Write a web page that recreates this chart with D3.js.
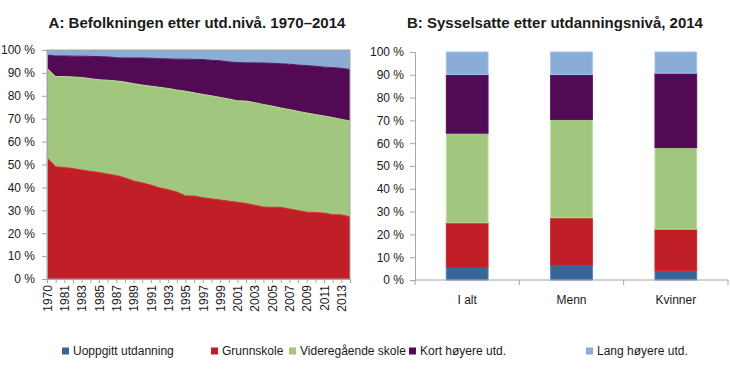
<!DOCTYPE html>
<html>
<head>
<meta charset="utf-8">
<script src="https://cdn.jsdelivr.net/npm/d3@7"></script>
<style>
body { margin: 0; background: #fff; }
svg text { font-family: "Liberation Sans", Arial, sans-serif; fill: #1a1a1a; }
</style>
</head>
<body>
<svg id="chart" width="730" height="373"></svg>
<script>
// series names and colours
const seriesNames = ["Uoppgitt utdanning", "Grunnskole", "Videregående skole", "Kort høyere utd.", "Lang høyere utd."];
const seriesColors = ["#376698", "#c01f27", "#a1c77e", "#520a55", "#8badd5"];
const seriesEdge = ["#4f81bd", "#d7262e", "#b9e08f", "#5e1060", "#9ec4ee"];

// A: population by education level (percent)
const years = [1970, 1980, 1981, 1982, 1983, 1984, 1985, 1986, 1987, 1988, 1989, 1990, 1991, 1992, 1993, 1994, 1995, 1996, 1997, 1998, 1999, 2000, 2001, 2002, 2003, 2004, 2005, 2006, 2007, 2008, 2009, 2010, 2011, 2012, 2013, 2014];
const popUoppgitt = years.map(() => 0);
const popGrunn = [53, 49, 48.7, 48.2, 47.6, 47, 46.5, 45.8, 45.2, 44.2, 42.8, 42, 41, 39.8, 39, 38, 36.3, 36.2, 35.5, 35, 34.5, 34, 33.5, 33, 32.2, 31.4, 31.3, 31.3, 30.6, 29.9, 29.2, 29, 28.8, 28.1, 28, 27.2];
const popVgs = [39, 39.4, 39.7, 40, 40.4, 40.5, 40.5, 41, 41.3, 41.8, 42.5, 42.7, 43.2, 43.9, 44.2, 44.5, 45.7, 45.1, 45.1, 45, 44.8, 44.6, 44.3, 44.7, 44.8, 44.8, 44.2, 43.4, 43.4, 43.3, 43.3, 42.8, 42.4, 42.4, 41.7, 41.8];
const popKort = [5.8, 9, 9, 9.1, 9.3, 9.7, 10.1, 10.2, 10.1, 10.5, 11.2, 11.8, 12.2, 12.5, 12.9, 13.5, 14, 14.6, 15.2, 15.5, 16, 16.2, 16.7, 16.7, 17.4, 18.1, 18.7, 19.3, 19.8, 20.2, 20.7, 21.1, 21.3, 21.8, 22.3, 22.5];
const popLang = [2.2, 2.6, 2.6, 2.7, 2.7, 2.8, 2.9, 3, 3.4, 3.5, 3.5, 3.5, 3.6, 3.8, 3.9, 4, 4, 4.1, 4.2, 4.5, 4.7, 5.2, 5.5, 5.6, 5.6, 5.7, 5.8, 6, 6.2, 6.6, 6.8, 7.1, 7.5, 7.7, 8, 8.5];

// B: employed by education level, 2014 (percent)
const groups = ["I alt", "Menn", "Kvinner"];
const empUoppgitt = [5.5, 6.4, 4.2];
const empGrunn = [19.6, 20.9, 18.1];
const empVgs = [39.3, 43.1, 35.8];
const empKort = [25.7, 19.7, 32.6];
const empLang = [9.9, 9.9, 9.3];

const yTicks = [0, 10, 20, 30, 40, 50, 60, 70, 80, 90, 100];
const pct = d => d + " %";

const svg = d3.select("#chart");

// ---------- Panel A ----------
const popRows = years.map((y, i) => ({
  key: y, s0: popUoppgitt[i], s1: popGrunn[i], s2: popVgs[i], s3: popKort[i], s4: popLang[i]
}));
const keys = ["s0", "s1", "s2", "s3", "s4"];
const popStack = d3.stack().keys(keys)(popRows);

const xA = d3.scalePoint().domain(years).range([47, 350]);
const yA = d3.scaleLinear().domain([0, 100]).range([279, 50]);

const gA = svg.append("g");
const area = d3.area()
  .x(d => xA(d.data.key))
  .y0(d => yA(d[0]))
  .y1(d => yA(d[1]));
const topLine = d3.line()
  .x(d => xA(d.data.key))
  .y(d => yA(d[1]));

gA.selectAll("path.area").data(popStack).join("path")
  .attr("class", "area")
  .attr("d", area)
  .attr("fill", (d, i) => seriesColors[i]);
gA.selectAll("path.edge").data(popStack.slice(1, 4)).join("path")
  .attr("class", "edge")
  .attr("d", topLine)
  .attr("fill", "none")
  .attr("stroke", (d, i) => seriesEdge[i + 1])
  .attr("stroke-width", 1);

gA.append("rect")
  .attr("x", 47).attr("y", 50).attr("width", 303).attr("height", 229)
  .attr("fill", "none").attr("stroke", "#a6a6a6");

gA.append("g").attr("transform", "translate(47,0)")
  .call(d3.axisLeft(yA).tickValues(yTicks).tickFormat(pct).tickSize(5).tickPadding(7));
const axXA = gA.append("g").attr("transform", "translate(0,279)")
  .call(d3.axisBottom(xA).tickSize(4).tickFormat((d, i) => i % 2 === 0 ? d : ""));
axXA.selectAll("text")
  .attr("transform", "rotate(-90)")
  .attr("text-anchor", "end")
  .attr("x", -6).attr("y", 0).attr("dy", "0.35em");

gA.append("text")
  .attr("x", 197).attr("y", 28)
  .attr("text-anchor", "middle")
  .attr("font-weight", "bold")
  .attr("font-size", 15)
  .text("A: Befolkningen etter utd.nivå. 1970–2014");

// ---------- Panel B ----------
const empRows = groups.map((g, i) => ({
  key: g, s0: empUoppgitt[i], s1: empGrunn[i], s2: empVgs[i], s3: empKort[i], s4: empLang[i]
}));
const empStack = d3.stack().keys(keys)(empRows);

const xB = d3.scaleBand().domain(groups).range([415, 728]).paddingInner(0.6).paddingOuter(0.3);
const yB = d3.scaleLinear().domain([0, 100]).range([280, 52]);

const gB = svg.append("g");
gB.selectAll("g.series").data(empStack).join("g")
  .attr("class", "series")
  .attr("fill", (d, i) => seriesColors[i])
  .attr("stroke", (d, i) => seriesEdge[i])
  .selectAll("rect").data(d => d).join("rect")
  .attr("x", d => xB(d.data.key))
  .attr("width", xB.bandwidth())
  .attr("y", d => yB(d[1]))
  .attr("height", d => yB(d[0]) - yB(d[1]));

gB.append("g").attr("transform", "translate(415,0)")
  .call(d3.axisLeft(yB).tickValues(yTicks).tickFormat(pct).tickSize(5).tickPadding(6));

const axXB = gB.append("g").attr("transform", "translate(0,280)");
axXB.append("line").attr("x1", 415).attr("x2", 728).attr("stroke", "#a6a6a6");
const step = xB.step();
axXB.selectAll("line.tick").data(d3.range(groups.length + 1)).join("line")
  .attr("class", "tick")
  .attr("x1", i => 415 + i * step).attr("x2", i => 415 + i * step)
  .attr("y1", 0).attr("y2", 5).attr("stroke", "#a6a6a6");
axXB.selectAll("text").data(groups).join("text")
  .attr("x", d => xB(d) + xB.bandwidth() / 2)
  .attr("y", 24)
  .attr("text-anchor", "middle")
  .attr("font-size", 12)
  .text(d => d);

gB.append("text")
  .attr("x", 555).attr("y", 28)
  .attr("text-anchor", "middle")
  .attr("font-weight", "bold")
  .attr("font-size", 15)
  .text("B: Sysselsatte etter utdanningsnivå, 2014");

// axis styling
svg.selectAll(".domain").attr("stroke", "#a6a6a6");
svg.selectAll(".tick line").attr("stroke", "#a6a6a6");
svg.selectAll(".tick text").attr("font-size", 12).attr("fill", "#1a1a1a");

// ---------- Legend ----------
const legendX = [62, 211, 289, 409, 586];
const leg = svg.append("g").selectAll("g").data(seriesNames).join("g")
  .attr("transform", (d, i) => `translate(${legendX[i]},351)`);
leg.append("rect").attr("x", 0).attr("y", -3.5).attr("width", 7).attr("height", 7)
  .attr("fill", (d, i) => seriesColors[i]);
leg.append("text").attr("x", 11).attr("dy", "0.35em").attr("font-size", 12).text(d => d);
</script>
</body>
</html>
